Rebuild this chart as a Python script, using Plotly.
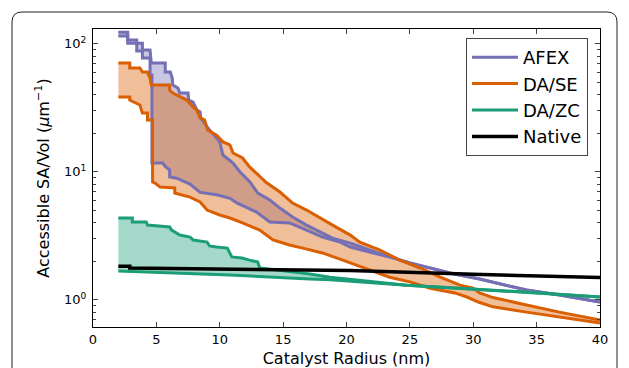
import plotly.graph_objects as go

# ---------------- data ----------------
afex_up_x = [2, 2.74, 2.74, 3.45, 3.45, 3.9, 3.9, 4.5, 4.6, 5.7, 5.7, 6.1, 6.25, 6.3, 6.7, 6.85,
             7.5, 7.55, 7.9, 8.2, 8.45, 8.5, 9.0, 10.0, 10.25, 11.05, 11.6, 12.35, 13.0, 13.95, 14.75,
             15.75, 16.85, 17.9, 18.9, 20.3, 21.8, 23.4, 25.0, 26.6, 28.15, 30.5, 34.2, 36.8, 40]
afex_up_y = [123, 123, 107, 107, 101, 101, 89.3, 89.3, 70.6, 70.6, 60.1, 60.1, 53.9, 47.6, 45.1, 41.2,
             41.2, 36.3, 35.0, 30.3, 29.3, 26.3, 22.4, 17.1, 13.5, 11.7, 9.95, 8.4, 6.82, 6.01, 5.2,
             4.43, 3.83, 3.38, 3.03, 2.77, 2.45, 2.16, 1.94, 1.77, 1.62, 1.45, 1.19, 1.09, 0.96]

afex_lo_x = [2, 2.74, 2.74, 3.45, 3.45, 3.9, 3.9, 4.5, 4.5, 4.65, 4.65, 5.5, 5.7, 6.05, 6.05, 6.6, 7.65, 8.45,
             9.75, 10.8, 11.35, 12.9, 13.95, 15.5, 16.85, 18.1, 19.5, 20.3, 22.6, 23.4, 25.0, 26.6, 28.15,
             30.5, 34.2, 36.8, 40]
afex_lo_y = [115, 115, 101, 101, 87.7, 87.7, 77.3, 77.3, 56.9, 56.9, 11.7, 11.7, 11.0, 10.3, 9.1, 8.9, 8.0, 6.9,
             6.6, 6.2, 5.7, 4.84, 4.05, 3.98, 3.5, 3.09, 2.82, 2.58, 2.25, 2.16, 1.94, 1.77, 1.62,
             1.45, 1.19, 1.09, 0.96]

dase_up_x = [2, 2.9, 2.9, 3.7, 3.9, 4.3, 4.5, 4.6, 6.05, 6.05, 6.3, 7.4, 7.9, 8.2, 8.45, 8.8, 9.05, 9.75,
             10.25, 10.8, 11.05, 11.8, 12.35, 12.9, 13.7, 14.75, 15.75, 16.85, 17.9, 18.9, 20.3, 21.05, 22.6,
             24.2, 25.8, 27.4, 28.95, 30.0, 30.5, 31.55, 34.2, 36.8, 40]
dase_up_y = [70.6, 70.6, 64.6, 64.6, 60.1, 60.1, 53.9, 47.6, 47.6, 43.5, 41.2, 36.3, 32.0, 30.3, 26.3, 25.4, 21.2, 19.3,
             17.1, 16.2, 14.0, 12.8, 10.9, 9.77, 8.2, 6.94, 5.69, 5.02, 4.35, 3.83, 3.2, 2.82, 2.45,
             2.04, 1.77, 1.50, 1.30, 1.23, 1.13, 1.04, 0.91, 0.80, 0.695]

dase_lo_x = [2, 2.9, 2.9, 3.7, 3.9, 4.3, 4.3, 4.7, 4.7, 4.9, 5.3, 6.45, 6.45, 7.65, 8.45, 9.0, 10.0, 10.8,
             11.8, 13.15, 14.2, 15.5, 16.55, 18.1, 19.7, 20.3, 21.8, 23.4, 25.0, 26.6, 28.55, 29.5, 30.4,
             31.55, 34.2, 36.8, 40]
dase_lo_y = [38.4, 38.4, 36.3, 33.2, 28.7, 28.7, 25.4, 25.4, 8.31, 8.16, 7.59, 7.46, 6.82, 6.34, 5.8, 5.02, 4.59, 4.35,
             3.98, 3.5, 2.93, 2.68, 2.53, 2.32, 2.04, 1.94, 1.71, 1.50, 1.38, 1.23, 1.13, 1.05, 0.96,
             0.88, 0.80, 0.73, 0.658]

dazc_up_x = [2, 3.1, 3.1, 4.2, 4.3, 6.05, 6.2, 6.85, 7.65, 7.9, 9.0, 9.2, 9.75, 10.6, 10.95, 11.75, 12.35,
             13.0, 13.15, 17.1, 18.7, 24.75, 28.95, 30.0, 35.25, 40]
dazc_up_y = [4.35, 4.35, 4.05, 4.05, 3.83, 3.70, 3.50, 3.20, 3.09, 2.93, 2.82, 2.63, 2.58, 2.53, 2.16, 2.12, 2.04,
             1.97, 1.77, 1.59, 1.50, 1.30, 1.23, 1.21, 1.13, 1.05]

dazc_lo_x = [2, 10.8, 17.1, 18.7, 24.75, 28.95, 30.0, 35.25, 40]
dazc_lo_y = [1.68, 1.56, 1.45, 1.43, 1.30, 1.23, 1.21, 1.13, 1.05]

native_x = [2, 2.9, 2.9, 17.1, 20.3, 30.0, 40]
native_y = [1.83, 1.83, 1.77, 1.71, 1.69, 1.58, 1.49]

series = [
    ("AFEX", "#7570b3", "rgba(117,112,179,0.4)", afex_up_x, afex_up_y, afex_lo_x, afex_lo_y),
    ("DA/SE", "#d95f02", "rgba(217,95,2,0.4)", dase_up_x, dase_up_y, dase_lo_x, dase_lo_y),
    ("DA/ZC", "#1b9e77", "rgba(27,158,119,0.4)", dazc_up_x, dazc_up_y, dazc_lo_x, dazc_lo_y),
]

x_ticks = [0, 5, 10, 15, 20, 25, 30, 35, 40]
y_ticks = [1, 10, 100]
y_ticktext = ["10<sup>0</sup>", "10<sup>1</sup>", "10<sup>2</sup>"]

# ---------------- figure ----------------
fig = go.Figure()

for name, col, fcol, ux, uy, lx, ly in series:
    fig.add_trace(go.Scatter(x=ux + lx[::-1], y=uy + ly[::-1], fill="toself", fillcolor=fcol,
                             mode="lines", line=dict(width=0, color=fcol), showlegend=False,
                             hoverinfo="skip"))

for name, col, fcol, ux, uy, lx, ly in series:
    fig.add_trace(go.Scatter(x=ux, y=uy, mode="lines", line=dict(color=col, width=3),
                             name=name, legendgroup=name, showlegend=True))
    fig.add_trace(go.Scatter(x=lx, y=ly, mode="lines", line=dict(color=col, width=3),
                             name=name, legendgroup=name, showlegend=False))

fig.add_trace(go.Scatter(x=native_x, y=native_y, mode="lines", line=dict(color="black", width=3.5),
                         name="Native", legendgroup="Native"))

L, R, T, B = 93, 600, 29, 327
W, H = 629, 368


def px2x(p):
    return (p - L) / (R - L)


def py2y(p):
    return (B - p) / (B - T)


# rounded frame around the figure (open at the bottom), built from separate pieces
fx0, fx1, fy0, fyb, rr = 12, 617, 12, H + 5, 10
frame_line = dict(color="#222222", width=1)
fig.add_shape(type="line", xref="paper", yref="paper", x0=px2x(fx0), x1=px2x(fx0),
              y0=py2y(fy0 + rr), y1=py2y(fyb), line=frame_line)
fig.add_shape(type="line", xref="paper", yref="paper", x0=px2x(fx1), x1=px2x(fx1),
              y0=py2y(fy0 + rr), y1=py2y(fyb), line=frame_line)
fig.add_shape(type="line", xref="paper", yref="paper", x0=px2x(fx0 + rr), x1=px2x(fx1 - rr),
              y0=py2y(fy0), y1=py2y(fy0), line=frame_line)
fig.add_shape(type="path", xref="paper", yref="paper", line=frame_line,
              path=f"M {px2x(fx0)} {py2y(fy0 + rr)} Q {px2x(fx0)} {py2y(fy0)} {px2x(fx0 + rr)} {py2y(fy0)}")
fig.add_shape(type="path", xref="paper", yref="paper", line=frame_line,
              path=f"M {px2x(fx1 - rr)} {py2y(fy0)} Q {px2x(fx1)} {py2y(fy0)} {px2x(fx1)} {py2y(fy0 + rr)}")

font = "DejaVu Sans"
fig.update_layout(
    width=W, height=H,
    margin=dict(l=L, r=W - R, t=T, b=H - B, autoexpand=False),
    paper_bgcolor="white", plot_bgcolor="white",
    font=dict(family=font, size=13, color="black"),
    showlegend=True,
    legend=dict(x=px2x(466), y=py2y(38), xanchor="left", yanchor="top",
                bgcolor="white", bordercolor="#444444", borderwidth=1,
                font=dict(size=18, family=font), traceorder="normal",
                tracegroupgap=4, itemwidth=46),
    xaxis=dict(range=[0, 40], tickvals=x_ticks, ticks="inside", ticklen=5, tickwidth=1,
               showline=True, linecolor="black", linewidth=1, mirror="ticks", automargin=False,
               showgrid=False, zeroline=False, tickfont=dict(size=13), ticklabelstandoff=0,
               title=dict(text="Catalyst Radius (nm)", font=dict(size=16), standoff=12)),
    yaxis=dict(type="log", range=[-0.213, 2.115], tickvals=y_ticks, ticktext=y_ticktext,
               ticks="inside", ticklen=5, tickwidth=1, automargin=False,
               minor=dict(ticks="inside", ticklen=3, tickwidth=1, dtick="D1", showgrid=False),
               showline=True, linecolor="black", linewidth=1, mirror="ticks",
               showgrid=False, zeroline=False, tickfont=dict(size=13), ticklabelstandoff=3,
               title=dict(text="Accessible SA/Vol (<i>μ</i>m<sup>−1</sup>)", font=dict(size=16),
                          standoff=10)),
)

fig.write_html("out.html")
